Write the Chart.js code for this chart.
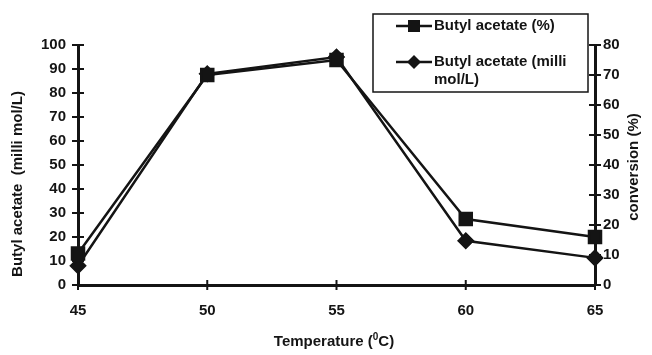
<!DOCTYPE html>
<html>
<head>
<meta charset="utf-8">
<script src="https://cdn.jsdelivr.net/npm/chart.js@4.4.0/dist/chart.umd.min.js"></script>
<style>
html,body{margin:0;padding:0;background:#fff;}
#wrap{width:652px;height:355px;position:relative;}
</style>
</head>
<body>
<div id="wrap"><canvas id="c" width="652" height="355"></canvas></div>
<script>
const temperatures = ['45', '50', '55', '60', '65'];
const conversionPct = [10.5, 70, 75, 22, 16];      // Butyl acetate (%) - right axis
const concMilliMol = [8, 88, 95, 18.4, 11.3];      // Butyl acetate (milli mol/L) - left axis
const leftTicks = [0,10,20,30,40,50,60,70,80,90,100];
const rightTicks = [0,10,20,30,40,50,60,70,80];
const seriesLabels = ['Butyl acetate (%)', 'Butyl acetate (milli mol/L)'];
const xTitle = 'Temperature (';
const leftTitle = 'Butyl acetate  (milli mol/L)';
const rightTitle = 'conversion (%)';

const FONT = '"Liberation Sans", Arial, sans-serif';
const INK = '#141414';

const crossTicks = {
  id: 'crossTicks',
  afterDraw(chart) {
    const ctx = chart.ctx;
    const ca = chart.chartArea;
    ctx.save();
    ctx.strokeStyle = INK;
    ctx.lineWidth = 2;
    const L = chart.scales.yL, R = chart.scales.yR, X = chart.scales.x;
    L.ticks.forEach((t, i) => {
      const y = L.getPixelForTick(i);
      ctx.beginPath(); ctx.moveTo(ca.left - 6, y); ctx.lineTo(ca.left + 6, y); ctx.stroke();
    });
    R.ticks.forEach((t, i) => {
      const y = R.getPixelForTick(i);
      ctx.beginPath(); ctx.moveTo(ca.right - 6, y); ctx.lineTo(ca.right + 6, y); ctx.stroke();
    });
    X.ticks.forEach((t, i) => {
      const x = X.getPixelForTick(i);
      ctx.beginPath(); ctx.moveTo(x, ca.bottom - 5); ctx.lineTo(x, ca.bottom + 5); ctx.stroke();
    });
    // titles
    ctx.fillStyle = INK;
    ctx.textBaseline = 'middle';
    const p1 = xTitle, sup = '0', p2 = 'C)';
    ctx.font = 'bold 15px ' + FONT;
    const w1 = ctx.measureText(p1).width, w3 = ctx.measureText(p2).width;
    ctx.font = 'bold 10px ' + FONT;
    const w2 = ctx.measureText(sup).width;
    const total = w1 + w2 + w3;
    let x0 = 334 - total / 2;
    const ty = 342;
    ctx.textAlign = 'left';
    ctx.font = 'bold 15px ' + FONT;
    ctx.fillText(p1, x0, ty);
    ctx.font = 'bold 10px ' + FONT;
    ctx.fillText(sup, x0 + w1, ty - 5);
    ctx.font = 'bold 15px ' + FONT;
    ctx.fillText(p2, x0 + w1 + w2, ty);
    // left title
    ctx.save();
    ctx.translate(18, 184);
    ctx.rotate(-Math.PI / 2);
    ctx.textAlign = 'center';
    ctx.fillText(leftTitle, 0, 0);
    ctx.restore();
    // right title
    ctx.save();
    ctx.translate(634, 167);
    ctx.rotate(-Math.PI / 2);
    ctx.textAlign = 'center';
    ctx.fillText(rightTitle, 0, 0);
    ctx.restore();

    // legend box
    const bx = 373, by = 14, bw = 215, bh = 78;
    ctx.fillStyle = '#fff';
    ctx.fillRect(bx, by, bw, bh);
    ctx.lineWidth = 1.5;
    ctx.strokeStyle = INK;
    ctx.strokeRect(bx, by, bw, bh);
    ctx.lineWidth = 2.5;
    const rows = [26, 62];
    rows.forEach((ry, i) => {
      ctx.beginPath(); ctx.moveTo(396, ry); ctx.lineTo(432, ry); ctx.stroke();
      ctx.fillStyle = INK;
      if (i === 0) {
        ctx.fillRect(408, ry - 6, 12, 12);
      } else {
        ctx.beginPath();
        ctx.moveTo(414, ry - 7); ctx.lineTo(421, ry); ctx.lineTo(414, ry + 7); ctx.lineTo(407, ry);
        ctx.closePath(); ctx.fill();
      }
    });
    ctx.font = 'bold 15px ' + FONT;
    ctx.textAlign = 'left';
    ctx.fillStyle = INK;
    ctx.fillText(seriesLabels[0], 434, 26);
    ctx.fillText('Butyl acetate (milli', 434, 62);
    ctx.fillText('mol/L)', 434, 80);
    ctx.restore();
  }
};

new Chart(document.getElementById('c'), {
  type: 'line',
  data: {
    labels: temperatures,
    datasets: [
      {
        label: seriesLabels[0],
        data: conversionPct,
        yAxisID: 'yR',
        borderColor: INK,
        backgroundColor: INK,
        borderWidth: 2.5,
        pointStyle: 'rect',
        pointRadius: 8.5,
        pointHoverRadius: 8.5,
        tension: 0
      },
      {
        label: seriesLabels[1],
        data: concMilliMol,
        yAxisID: 'yL',
        borderColor: INK,
        backgroundColor: INK,
        borderWidth: 2.5,
        pointStyle: 'rectRot',
        pointRadius: 7,
        pointHoverRadius: 7,
        tension: 0
      }
    ]
  },
  options: {
    responsive: false,
    animation: false,
    events: [],
    layout: { padding: { left: 30, right: 25, top: 45, bottom: 30 } },
    plugins: { legend: { display: false }, tooltip: { enabled: false } },
    scales: {
      x: {
        offset: false,
        grid: { drawOnChartArea: false, drawTicks: false },
        border: { display: true, color: INK, width: 3 },
        ticks: { color: INK, font: { family: FONT, size: 15, weight: 'bold' }, padding: 17, maxRotation: 0 },
        afterFit(s) { s.height = 40; }
      },
      yL: {
        position: 'left',
        min: 0, max: 100,
        afterBuildTicks(s) { s.ticks = leftTicks.map(v => ({ value: v })); },
        grid: { drawOnChartArea: false, drawTicks: false },
        border: { display: true, color: INK, width: 3 },
        ticks: { color: INK, font: { family: FONT, size: 15, weight: 'bold' }, padding: 12 },
        afterFit(s) { s.width = 48; }
      },
      yR: {
        position: 'right',
        min: 0, max: 80,
        afterBuildTicks(s) { s.ticks = rightTicks.map(v => ({ value: v })); },
        grid: { drawOnChartArea: false, drawTicks: false },
        border: { display: true, color: INK, width: 3 },
        ticks: { color: INK, font: { family: FONT, size: 15, weight: 'bold' }, padding: 8 },
        afterFit(s) { s.width = 32; }
      }
    }
  },
  plugins: [crossTicks]
});
</script>
</body>
</html>
